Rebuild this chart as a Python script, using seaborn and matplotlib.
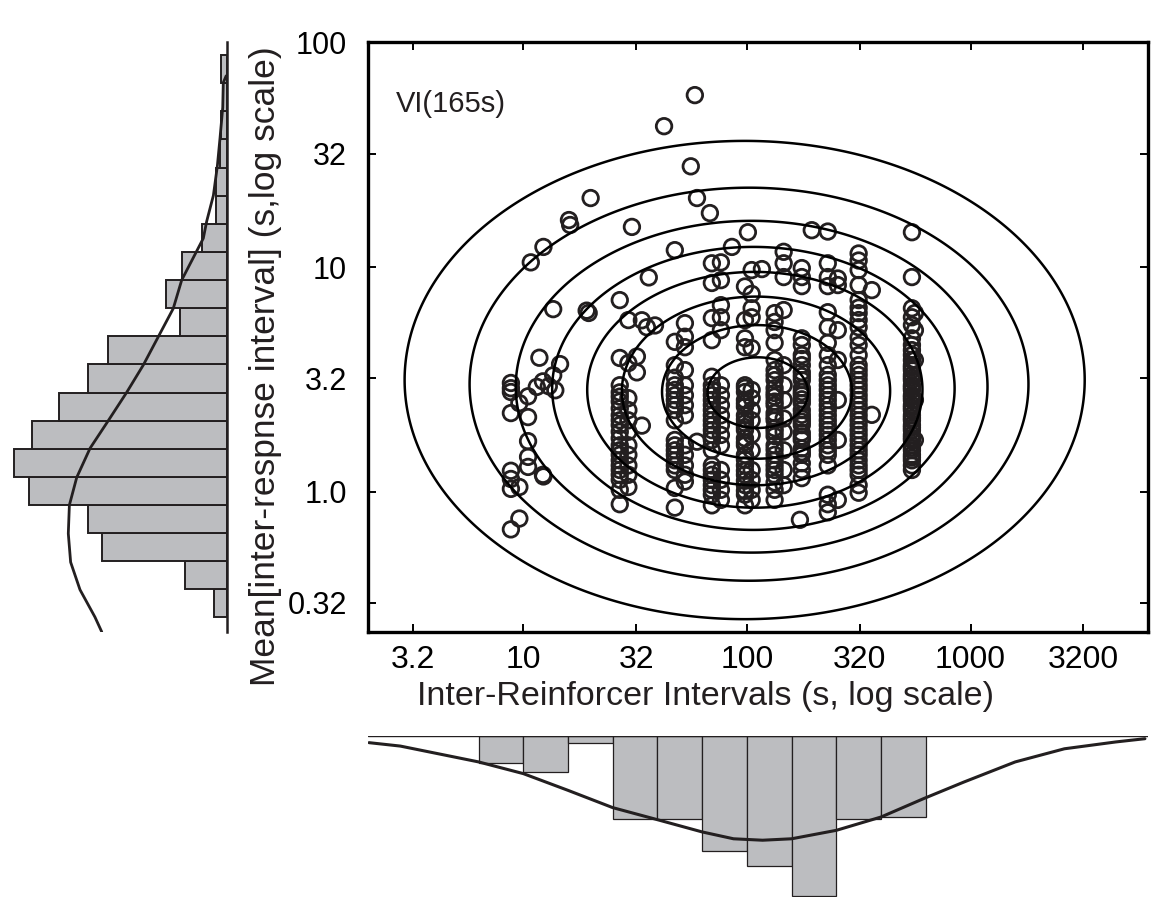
import numpy as np
import pandas as pd
import matplotlib
matplotlib.use("Agg")
import matplotlib.pyplot as plt
import seaborn as sns
from matplotlib.ticker import NullLocator

# ---------------- data ----------------
# scatter: columns of points sharing one inter-reinforcer interval (s)
col_iri = [8.8, 9.6, 10.5, 27.0, 29.5, 47.6, 52.8, 69.7, 76.5, 98, 105, 133, 146,
           176, 230, 255, 316, 547, 564]
irt_a1 = [3.05, 2.89, 2.78, 2.24, 1.24, 1.14, 1.03, 0.68]
irt_a2 = [2.48, 1.05, 0.76]
irt_a3 = [2.66, 2.15, 1.68, 1.43, 1.29]
irt_b1 = [7.13, 3.94, 2.98, 2.77, 2.52, 2.19, 1.98, 1.73, 1.53, 1.38, 1.25, 1.13, 1.02,
          0.88, 2.65, 2.35, 2.08, 1.85, 1.61, 1.46, 1.31, 1.19]
irt_b2 = [5.81, 3.74, 2.61, 2.31, 2.08, 1.85, 1.61, 1.46, 1.31, 1.19, 1.05]
irt_c1 = [4.65, 3.66, 3.22, 2.84, 2.56, 2.31, 2.08, 1.70, 1.53, 1.38, 1.25, 1.04, 0.85,
          2.98, 2.69, 2.43, 1.61, 1.46, 1.31]
irt_c2 = [5.63, 4.9, 4.4, 3.48, 2.98, 2.69, 2.43, 2.19, 1.61, 1.46, 1.31, 1.19, 1.11]
irt_d1 = [10.4, 8.5, 5.93, 4.73, 3.25, 2.84, 2.56, 2.31, 2.08, 1.88, 1.70, 1.53, 1.31,
          1.19, 1.07, 0.97, 0.87, 2.98, 2.69, 2.43, 2.19, 1.98, 1.79, 1.25, 1.13, 1.02]
irt_d2 = [10.5, 8.75, 6.77, 5.98, 5.24, 2.98, 2.69, 2.43, 2.19, 1.98, 1.79, 1.61, 1.25,
          1.13, 1.02, 0.92]
irt_e1 = [8.2, 5.81, 4.82, 4.4, 2.98, 2.78, 2.56, 2.39, 2.19, 2.02, 1.88, 1.73, 1.61,
          1.46, 1.31, 1.19, 1.07, 0.97, 0.87, 2.9, 2.47, 2.1, 1.94, 1.66, 1.39, 1.24,
          1.12, 1.01]
irt_e2 = [9.7, 7.6, 6.56, 5.98, 4.36, 2.84, 2.61, 2.31, 2.08, 1.79, 1.53, 1.25, 1.13,
          1.02, 0.92]
irt_f1 = [6.24, 5.7, 5.24, 4.6, 3.86, 3.48, 3.14, 2.89, 2.65, 2.43, 2.24, 2.08, 1.92,
          1.77, 1.61, 1.46, 1.31, 1.19, 1.02, 0.92, 3.3, 2.75, 2.52, 2.15, 1.85, 1.54,
          1.38, 1.25, 1.1]
irt_f2 = [11.7, 10.4, 9.03, 6.44, 3.66, 2.98, 2.56, 2.12, 1.85, 1.53, 1.25, 1.07]
irt_g = [9.9, 9.03, 8.23, 4.82, 4.5, 4.06, 3.66, 3.41, 3.14, 2.89, 2.69, 2.48, 2.31,
         2.12, 1.98, 1.83, 1.70, 1.56, 1.46, 1.34, 1.25, 1.15, 3.9, 3.27, 2.78, 2.58,
         2.2, 2.05, 1.76, 1.5]
irt_h1 = [10.4, 9.03, 8.23, 6.3, 5.4, 4.6, 4.06, 3.66, 3.31, 2.98, 2.69, 2.43, 2.19,
          1.98, 1.79, 1.61, 1.46, 1.31, 0.97, 0.88, 0.81, 3.14, 2.84, 2.56, 2.31, 2.08,
          1.88, 1.70, 1.53]
irt_h2 = [8.9, 8.32, 5.24, 3.86, 2.56, 1.70, 0.92]
irt_i = [11.5, 10.7, 9.7, 8.32, 7.13, 6.6, 6.24, 5.81, 5.4, 4.86, 4.5, 4.06, 3.66, 3.31,
         2.98, 2.69, 2.43, 2.19, 1.98, 1.79, 1.61, 1.46, 1.31, 1.19, 1.07, 0.99, 3.48,
         3.14, 2.84, 2.56, 2.31, 2.08, 1.88, 1.7, 1.53, 1.38, 1.25]
irt_j1 = [9.03, 6.56, 5.98, 5.52, 4.82, 4.5, 4.27, 4.06, 3.86, 3.66, 3.48, 3.31, 3.14,
          2.98, 2.84, 2.69, 2.56, 2.43, 2.31, 2.19, 2.08, 1.98, 1.88, 1.79, 1.70, 1.61,
          1.53, 1.46, 1.38, 1.31, 1.25, 3.57, 3.22, 2.91, 2.63, 2.37, 2.13, 1.93, 1.74,
          1.57, 1.42]
irt_j2 = [6.24, 5.24, 3.86, 2.56, 1.70]
col_irt = [irt_a1, irt_a2, irt_a3, irt_b1, irt_b2, irt_c1, irt_c2, irt_d1, irt_d2,
           irt_e1, irt_e2, irt_f1, irt_f2, irt_g, irt_h1, irt_h2, irt_i, irt_j1, irt_j2]

# isolated points
extra_iri = [58.5, 42.6, 56.1, 59.8, 68.3, 20.0, 16.0, 16.2, 30.6, 12.3, 10.8, 13.6,
             19.2, 19.6, 47.6, 36.4, 85.7, 116.7, 195, 230, 547, 101, 362, 362, 33.9,
             38.8, 35.7, 32.2, 32.2, 33.9, 59.8, 172.6, 11.8, 14.6, 13.6, 13.0, 13.9,
             12.24, 11.49, 12.24, 12.3]
extra_irt = [58.3, 42.4, 28.1, 20.3, 17.4, 20.3, 16.2, 15.4, 15.1, 12.3, 10.5, 6.5,
             6.4, 6.25, 11.9, 9.0, 12.3, 9.8, 14.6, 14.4, 14.3, 14.3, 7.9, 2.2, 5.8,
             5.5, 5.4, 4.0, 3.4, 1.97, 1.67, 0.75, 3.95, 3.7, 3.3, 2.95, 2.83, 3.1,
             2.93, 1.19, 1.17]

# fitted bivariate density (log10 units): centre, spread, drift of the centre
# of the outer contours (decades per squared radius) and contour levels
fit_mean_log = [2.05, 0.44]
fit_sd_log = [0.5, 0.35]
fit_drift_log = [-0.0065, 0.0062]
contour_levels = [0.0098, 0.044, 0.108, 0.198, 0.325, 0.487, 0.697, 0.904]

# bottom marginal histogram (inter-reinforcer intervals)
iri_bin_edges_log = [0.8, 1.0, 1.2, 1.4, 1.6, 1.8, 2.0, 2.2, 2.4, 2.6, 2.8]
iri_counts = [15, 20, 4, 46, 46, 64, 72, 89, 46, 45]
iri_curve_log = [0.31, 0.45, 0.80, 1.0, 1.2, 1.4, 1.6, 1.8, 1.94, 2.07, 2.2, 2.4, 2.6,
                 2.79, 2.97, 3.2, 3.42, 3.65, 3.78]
iri_curve_val = [3.7, 5.6, 14.4, 20.9, 30.2, 39.8, 46.5, 53.3, 57.1, 57.9, 57.1, 52.4,
                 45.0, 34.8, 25.6, 14.4, 7.1, 3.3, 1.5]

# left marginal histogram (mean inter-response interval)
irt_bin_lo_log = -0.56
irt_bin_w_log = 0.1246
irt_counts = [7, 23, 69, 77, 110, 118, 108, 93, 77, 66, 26, 34, 25, 14, 6, 6, 4, 3, 2, 3]
irt_curve_log = [1.84, 1.81, 1.70, 1.565, 1.44, 1.31, 1.196, 1.12, 0.935, 0.809, 0.559,
                 0.437, 0.312, 0.19, 0.061, -0.062, -0.188, -0.315, -0.437, -0.558, -0.624]
irt_curve_val = [0.3, 1.9, 2.2, 3.7, 5.2, 7.4, 11.1, 13.0, 25.0, 29.7, 46.3, 55.6, 65.8,
                 75.9, 83.3, 87.4, 88.0, 86.7, 81.5, 73.2, 69.4]

x_ticks = [3.2, 10, 32, 100, 320, 1000, 3200]
x_ticklabels = ["3.2", "10", "32", "100", "320", "1000", "3200"]
y_ticks = [0.32, 1.0, 3.2, 10, 32, 100]
y_ticklabels = ["0.32", "1.0", "3.2", "10", "32", "100"]

# ---------------- figure ----------------
sns.set_theme(style="ticks")
plt.rcParams["font.family"] = ["Liberation Sans", "DejaVu Sans"]
INK = "#231f20"
BAR = "#bcbdc0"

W, H = 1154, 897
fig = plt.figure(figsize=(W / 100, H / 100), dpi=100)

def frac(l, t, r, b):
    return [l / W, 1 - b / H, (r - l) / W, (b - t) / H]

ax = fig.add_axes(frac(368, 42, 1148, 632))
axl = fig.add_axes(frac(0, 42, 226.7, 632))
axb = fig.add_axes(frac(368, 736, 1148, 897))

xlim = (2.02, 6220)
ylim = (0.2375, 100.5)

# ---- main scatter ----
rows_x, rows_y = [], []
for xv, ys in zip(col_iri, col_irt):
    rows_x += [xv] * len(ys)
    rows_y += ys
rows_x += extra_iri
rows_y += extra_irt
df = pd.DataFrame({"iri": rows_x, "irt": rows_y})

ax.set_xscale("log")
ax.set_yscale("log")
sns.scatterplot(data=df, x="iri", y="irt", ax=ax, marker="o", s=125,
                facecolors="none", edgecolor=INK, linewidth=2.0, zorder=3,
                legend=False)

lx = np.linspace(np.log10(xlim[0]), np.log10(xlim[1]), 500)
ly = np.linspace(np.log10(ylim[0]), np.log10(ylim[1]), 500)
LX, LY = np.meshgrid(lx, ly)
R2 = np.zeros_like(LX)
for _ in range(30):
    cx = fit_mean_log[0] + fit_drift_log[0] * R2
    cy = fit_mean_log[1] + fit_drift_log[1] * R2
    R2 = ((LX - cx) / fit_sd_log[0]) ** 2 + ((LY - cy) / fit_sd_log[1]) ** 2
Z = np.exp(-0.5 * R2)
ax.contour(10 ** LX, 10 ** LY, Z, levels=sorted(contour_levels), colors="black",
           linewidths=1.8, zorder=4)

ax.set_xlim(*xlim)
ax.set_ylim(*ylim)
ax.set_xticks(x_ticks)
ax.set_xticklabels(x_ticklabels)
ax.set_yticks(y_ticks)
ax.set_yticklabels(y_ticklabels)
ax.xaxis.set_minor_locator(NullLocator())
ax.yaxis.set_minor_locator(NullLocator())
ax.tick_params(axis="both", which="major", direction="in", length=6, width=1.4,
               top=True, right=True, colors="black")
ax.tick_params(axis="y", pad=15, labelsize=22)
ax.tick_params(axis="x", pad=9, labelsize=23)
for s in ax.spines.values():
    s.set_visible(True)
    s.set_linewidth(2.4)
    s.set_color("black")
ax.set_xlabel("")
ax.set_ylabel("")
ax.text(451 / W, 1 - 104 / H, "VI(165s)", transform=fig.transFigure, ha="center",
        va="center", fontsize=21, color=INK)

fig.text(706 / W, 1 - 696 / H, "Inter-Reinforcer Intervals (s, log scale)",
         ha="center", va="center", fontsize=24.5, color=INK)
fig.text(266 / W, 1 - 366 / H, "Mean[inter-respnse interval] (s,log scale)",
         ha="center", va="center", rotation=90, fontsize=25.5, color=INK)

# ---- bottom marginal ----
edges = np.power(10.0, iri_bin_edges_log)
axb.set_xscale("log")
axb.bar(edges[:-1], iri_counts, width=np.diff(edges), align="edge", color=BAR,
        edgecolor=INK, linewidth=0.9, zorder=2)
sns.lineplot(x=np.power(10.0, iri_curve_log), y=iri_curve_val, ax=axb, color=INK,
             linewidth=2.2, sort=False, estimator=None, zorder=3)
axb.set_xlim(*xlim)
axb.set_ylim(161 / 1.8, 0)
axb.axis("off")
axb.axhline(0, color=INK, linewidth=1.0, zorder=4)

# ---- left marginal ----
yedges = np.power(10.0, irt_bin_lo_log + irt_bin_w_log * np.arange(len(irt_counts) + 1))
axl.set_yscale("log")
axl.barh(yedges[:-1], irt_counts, height=np.diff(yedges), align="edge", color=BAR,
         edgecolor=INK, linewidth=1.4, zorder=2)
sns.lineplot(x=irt_curve_val, y=np.power(10.0, irt_curve_log), ax=axl, color=INK,
             linewidth=2.0, sort=False, estimator=None, zorder=3)
axl.set_xlim(226.7 / 1.8, 0)
axl.set_ylim(ylim[0], 10 ** 1.99)
for k, s in axl.spines.items():
    s.set_visible(k == "right")
axl.spines["right"].set_linewidth(1.8)
axl.spines["right"].set_color(INK)
axl.set_xticks([])
axl.set_yticks([])
axl.yaxis.set_minor_locator(NullLocator())
axl.set_xlabel("")
axl.set_ylabel("")
axl.patch.set_alpha(0)
axb.patch.set_alpha(0)

fig.savefig("out.png", dpi=100)
